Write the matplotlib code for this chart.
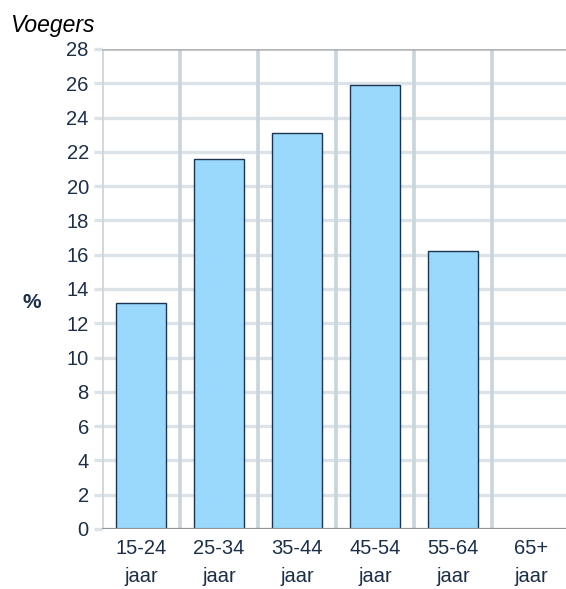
import matplotlib
matplotlib.use("Agg")
import matplotlib.pyplot as plt

categories = ["15-24\njaar", "25-34\njaar", "35-44\njaar", "45-54\njaar", "55-64\njaar", "65+\njaar"]
values = [13.2, 21.6, 23.1, 25.9, 16.2, 0.0]
yticks = list(range(0, 29, 2))
title = "Voegers"
ylabel = "%"

plt.rcParams['font.family'] = ['Liberation Sans', 'DejaVu Sans']

W, H = 566, 589
fig = plt.figure(figsize=(W / 100, H / 100), dpi=100)
ax = fig.add_axes([102 / W, 1 - 529 / H, (566 - 102) / W, (529 - 49) / H])

text_col = "#1d2f47"
hgrid = "#dbe3e8"
vgrid = "#c9d4db"

x = list(range(len(categories)))
ax.bar(x, values, width=0.64, color="#9ad9fb", edgecolor="#1b3550", linewidth=1.0, zorder=3)

ax.set_xlim(-0.5, -0.5 + 464 / 78)
ax.set_ylim(0, 28)
ax.set_yticks(yticks)
ax.set_xticks(x)
ax.set_xticklabels(categories, linespacing=1.6)

# grid lines
for t in yticks[1:-1]:
    ax.axhline(t, color=hgrid, linewidth=2.4, zorder=1)
for b in range(1, len(categories)):
    ax.axvline(b - 0.5, color=vgrid, linewidth=2.6, zorder=1)

for s in ["left", "right", "top", "bottom"]:
    ax.spines[s].set_visible(False)
ax.axvline(-0.5, color="#d3d6d8", linewidth=2.0, zorder=2)
ax.axhline(28, color="#b3b5b7", linewidth=1.8, zorder=2)
ax.axhline(0, color="#8e9498", linewidth=1.6, zorder=4)

ax.tick_params(axis="y", length=5.5, width=2.4, color=hgrid, pad=4.0,
               labelsize=14.5, labelcolor=text_col)
ax.tick_params(axis="x", length=0, pad=7, labelsize=14.5, labelcolor=text_col)

fig.text(10 / W, 1 - 32 / H, title, fontsize=16.5, style="italic", color="black",
         ha="left", va="baseline")
fig.text(32 / W, 1 - 303 / H, ylabel, fontsize=15, fontweight="bold", color=text_col,
         ha="center", va="center")

fig.savefig("out.png", dpi=100)
